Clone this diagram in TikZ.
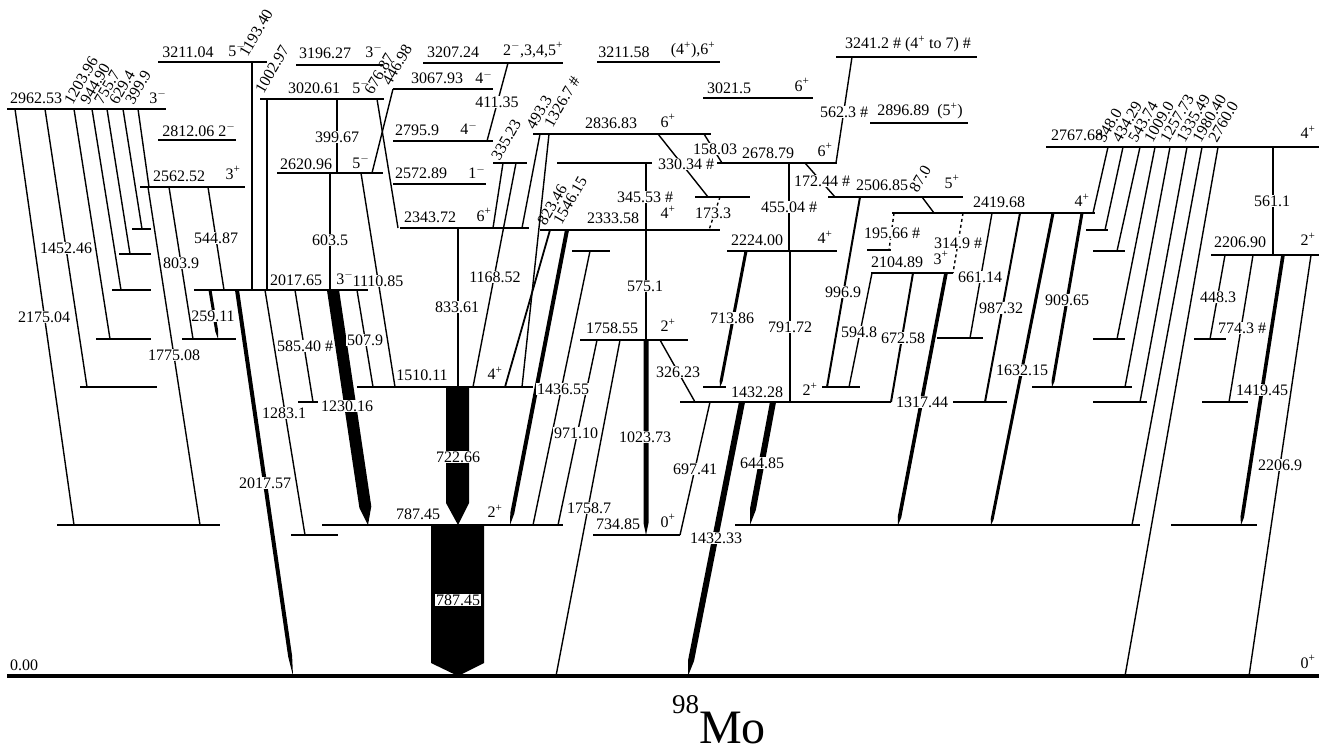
\documentclass[tikz,border=0pt]{standalone}
\usepackage{fontspec}
\setmainfont{Liberation Serif}
\usetikzlibrary{calc}
\newcounter{lb}
\newcommand\Lv[3]{\draw[lev] (#2,#1) -- (#3,#1);}
\newcommand\Gm[5][]{\draw[gam,#1] (#2,#3) -- (#4,#5);}
\newcommand\Tg[6]{%
  \coordinate (tA) at (#1,#2); \coordinate (tB) at (#3,#4);
  \coordinate (tC) at ($(tB)!#6!(tA)$);
  \fill ($(tA)!#5!90:(tB)$) -- ($(tC)!#5!-90:(tA)$) -- (tB) -- ($(tC)!#5!90:(tA)$) -- ($(tA)!#5!-90:(tB)$) -- cycle;}
\newcommand\Lb[4][]{\stepcounter{lb}\node[lab,#1] (l\thelb) at (#2,#3) {#4};}
\newcommand\Rl[3]{\stepcounter{lb}\node[rlab] (l\thelb) at (#1,#2) {#3};}
\newcommand\SM{\textsuperscript{$-$}}
\newcommand\SP{\textsuperscript{+}}
\begin{document}
\begin{tikzpicture}[x=1pt,y=-1pt,
  lev/.style={line width=1.8pt},
  gam/.style={line width=1.4pt},
  lab/.style={font=\fontsize{16}{16}\selectfont, inner sep=0.6pt, fill=white},
  rlab/.style={font=\fontsize{16}{16}\selectfont, inner sep=0pt, rotate=60, anchor=south west}]
\useasboundingbox (0,0) rectangle (1329,751);
% ---------- levels ----------
\draw[line width=4pt] (7,676) -- (1319,676);
\Lv{525}{57}{220}\Lv{525}{322}{563}\Lv{525}{735}{1140}\Lv{525}{1171}{1257}
\Lv{535}{291}{338}\Lv{535}{593}{680}
\Lv{402}{298}{318}\Lv{402}{680}{891}\Lv{402}{953}{1007}\Lv{402}{1093}{1147}\Lv{402}{1202}{1248}
\Lv{387}{80}{157}\Lv{387}{357}{533}\Lv{387}{703}{726}\Lv{387}{822}{860}\Lv{387}{1032}{1132}
\Lv{339}{96}{151}\Lv{339}{182}{236}\Lv{340}{580}{688}\Lv{338}{937}{983}\Lv{339}{1093}{1125}\Lv{339}{1194}{1226}
\Lv{290}{112}{151}\Lv{290}{194}{368}
\Lv{273}{871}{953}
\Lv{254}{119}{151}\Lv{255}{1211}{1319}
\Lv{251}{572}{610}\Lv{251}{727}{837}\Lv{250}{867}{891}\Lv{251}{1093}{1125}
\Lv{229}{132}{151}\Lv{230}{540}{720}\Lv{230}{1086}{1108}
\Lv{228}{400}{529}
\Lv{213}{892}{1095}
\Lv{197}{695}{750}\Lv{197}{828}{963}
\Lv{187}{140}{245}
\Lv{184}{393}{486}
\Lv{173}{277}{383}
\Lv{163}{493}{527}\Lv{163}{557}{652}\Lv{163}{717}{837}
\Lv{147}{1046}{1319}
\Lv{141}{393}{493}
\Lv{140}{158}{236}
\Lv{134}{533}{711}
\Lv{123}{870}{968}
\Lv{109}{7}{166}
\Lv{99}{260}{384}
\Lv{98}{703}{813}
\Lv{89}{393}{493}
\Lv{65}{296}{383}
\Lv{63}{423}{563}
\Lv{62}{158}{267}
\Lv{62}{597}{720}
\Lv{57}{836}{977}
% ---------- transitions ----------
\Gm{15}{109}{74}{525}\Gm{45}{109}{87}{387}\Gm{74}{109}{110}{339}\Gm{92}{109}{121}{290}
\Gm{107}{109}{130}{254}\Gm{123}{109}{142}{229}\Gm{138}{109}{149}{187}
\Gm{148}{187}{200}{525}\Gm{169}{187}{193}{339}\Gm{208}{187}{224}{290}
\Gm{252}{62}{252}{290}\Gm{267}{99}{267}{290}\Gm{337}{99}{337}{173}\Gm{377}{99}{398}{228}
\Gm{393}{89}{372}{173}
\Gm{330}{173}{330}{290}\Gm{361}{173}{395}{387}
\Gm{265}{290}{305}{535}\Gm{295}{290}{313}{402}\Gm{357}{290}{373}{387}
\Gm{508}{63}{487}{141}
\Gm{458}{228}{458}{387}
\Gm{503}{163}{493}{228}\Gm{516}{163}{473}{387}
\Gm{540}{134}{522}{228}\Gm{549}{134}{522}{387}
\Gm{704}{134}{722}{163}\Gm{658}{134}{708}{197}
\Gm[line width=1.8pt]{550}{230}{505}{387}
\Gm{646}{163}{646}{230}\Gm{646}{230}{646}{340}
\Gm{590}{251}{533}{525}
\Gm{597}{340}{558}{525}\Gm{620}{340}{556}{676}\Gm{660}{340}{695}{402}
\Gm{710}{402}{680}{535}
\Gm{852}{57}{836}{163}
\Gm{789}{163}{789}{251}\Gm{805}{163}{835}{197}
\Gm[dashed]{720}{197}{709}{230}
\Gm{790}{251}{790}{402}
\Gm[line width=2pt]{860}{197}{827}{387}\Gm{922}{197}{934}{213}
\Gm[dashed]{894}{213}{889}{250}\Gm[dashed]{963}{213}{953}{273}
\Gm{992}{213}{970}{338}\Gm[line width=2pt]{1020}{213}{985}{402}
\Gm{872}{273}{849}{387}\Gm[line width=2pt]{913}{273}{891}{402}
\Gm{1108}{147}{1093}{213}\Gm{1123}{147}{1105}{230}\Gm{1140}{147}{1117}{251}
\Gm{1155}{147}{1117}{339}\Gm{1170}{147}{1125}{387}\Gm{1187}{147}{1140}{402}
\Gm{1202}{147}{1132}{525}\Gm{1218}{147}{1125}{676}\Gm{1273}{147}{1273}{255}
\Gm{1225}{255}{1210}{339}\Gm{1253}{255}{1229}{402}\Gm{1311}{255}{1249}{676}
% thick tapered
\Tg{237}{290}{293}{676}{2pt}{20pt}
\Tg{210}{290}{218}{339}{1.5pt}{8pt}
\Tg{333}{290}{368}{525}{6pt}{18pt}
\Tg{567}{230}{510}{525}{2pt}{12pt}
\Tg{646}{340}{646}{535}{2.5pt}{12pt}
\Tg{742}{402}{688}{676}{3pt}{16pt}
\Tg{773}{402}{750}{525}{3pt}{16pt}
\Tg{746}{251}{720}{387}{1.5pt}{6pt}
\Tg{946}{273}{898}{525}{1.8pt}{8pt}
\Tg{1053}{213}{991}{525}{1.5pt}{6pt}
\Tg{1082}{213}{1052}{387}{1.5pt}{6pt}
\Tg{1283}{255}{1241}{525}{1.8pt}{8pt}
% block arrows
\fill (446,387) -- (469,387) -- (469,503) -- (458,525) -- (446,503) -- cycle;
\fill (431,525) -- (484,525) -- (484,663) -- (458,676) -- (431,663) -- cycle;
% ---------- labels ----------
\Lb{24}{665}{0.00}\Lb{1308}{662}{0\SP}
\Lb{36}{98}{2962.53}\Lb{158}{97}{3\SM}
\Rl{73}{106}{1203.96}\Rl{89}{106}{944.90}\Rl{103}{106}{755.7}\Rl{118}{106}{629.4}\Rl{134}{106}{399.9}
\Lb{188}{52}{3211.04}\Lb{237}{50}{5\SM}
\Rl{248}{58}{1193.40}\Rl{264}{95}{1002.97}
\Lb{325}{53}{3196.27}\Lb{374}{51}{3\SM}
\Lb{314}{88}{3020.61}\Lb{361}{87}{5\SM}
\Rl{373}{96}{676.87}\Rl{391}{87}{446.98}
\Lb{199}{130}{2812.06 2\SM}
\Lb{179}{176}{2562.52}\Lb{233}{173}{3\SP}
\Lb{306}{164}{2620.96}\Lb{361}{162}{5\SM}
\Lb{337}{137}{399.67}
\Lb{437}{78}{3067.93}\Lb{484}{77}{4\SM}
\Lb{453}{52}{3207.24}\Lb{533}{50}{2\SM,3,4,5\SP}
\Lb{497}{102}{411.35}
\Lb{417}{130}{2795.9}\Lb{469}{128}{4\SM}
\Lb{421}{173}{2572.89}\Lb{477}{172}{1\SM}
\Rl{500}{162}{335.23}\Rl{535}{131}{493.3}\Rl{553}{129}{1326.7 \#}
\Lb{611}{123}{2836.83}\Lb{668}{121}{6\SP}
\Lb{624}{52}{3211.58}\Lb{693}{50}{(4\SP),6\SP}
\Lb{729}{88}{3021.5}\Lb{802}{85}{6\SP}
\Lb{908}{44}{3241.2 \# (4\SP{} to 7) \#}
\Lb{844}{112}{562.3 \#}
\Lb{920}{111}{2896.89 \ (5\SP)}
\Lb{715}{149}{158.03}
\Lb{768}{153}{2678.79}\Lb{825}{150}{6\SP}
\Lb{686}{164}{330.34 \#}
\Lb{645}{197}{345.53 \#}
\Lb{613}{218}{2333.58}\Lb{668}{212}{4\SP}
\Lb{713}{213}{173.3}
\Lb{822}{181}{172.44 \#}
\Lb{882}{185}{2506.85}\Rl{918}{194}{87.0}\Lb{952}{182}{5\SP}
\Lb{789}{207}{455.04 \#}
\Lb{757}{240}{2224.00}\Lb{825}{237}{4\SP}
\Lb{892}{233}{195.66 \#}
\Lb{958}{243}{314.9 \#}
\Lb{897}{262}{2104.89}\Lb{941}{258}{3\SP}
\Lb{999}{202}{2419.68}\Lb{1082}{200}{4\SP}
\Lb{843}{292}{996.9}
\Lb{980}{277}{661.14}
\Lb{1001}{308}{987.32}
\Lb{732}{318}{713.86}
\Lb{790}{327}{791.72}
\Lb{859}{332}{594.8}
\Lb{903}{338}{672.58}
\Lb{1067}{300}{909.65}
\Lb{1022}{370}{1632.15}
\Lb{922}{402}{1317.44}
\Lb{1077}{135}{2767.68}\Lb{1308}{132}{4\SP}
\Rl{1105}{144}{348.0}\Rl{1121}{144}{434.29}\Rl{1137}{144}{543.74}\Rl{1153}{144}{1009.0}
\Rl{1169}{144}{1257.73}\Rl{1185}{144}{1335.49}\Rl{1201}{144}{1980.40}\Rl{1217}{144}{2760.0}
\Lb{1272}{201}{561.1}
\Lb{1240}{242}{2206.90}\Lb{1308}{239}{2\SP}
\Lb{1218}{297}{448.3}
\Lb{1242}{328}{774.3 \#}
\Lb{1262}{390}{1419.45}
\Lb{1280}{465}{2206.9}
\Lb{66}{248}{1452.46}
\Lb{44}{317}{2175.04}
\Lb{174}{355}{1775.08}
\Lb{181}{263}{803.9}
\Lb{216}{238}{544.87}
\Lb{213}{316}{259.11}
\Lb{305}{346}{585.40 \#}
\Lb{284}{413}{1283.1}
\Lb{265}{483}{2017.57}
\Lb{296}{280}{2017.65}\Lb{345}{278}{3\SM}\Lb{378}{281}{1110.85}
\Lb{330}{240}{603.5}
\Lb{365}{340}{507.9}
\Lb{347}{406}{1230.16}
\Lb{430}{217}{2343.72}\Lb{484}{215}{6\SP}
\Lb{457}{307}{833.61}
\Lb{495}{277}{1168.52}
\Lb{422}{375}{1510.11}\Lb{495}{373}{4\SP}
\Rl{546}{227}{823.46}\Rl{562}{226}{1546.15}
\Lb{645}{286}{575.1}
\Lb{563}{389}{1436.55}
\Lb{612}{328}{1758.55}\Lb{668}{325}{2\SP}
\Lb{678}{372}{326.23}
\Lb{757}{392}{1432.28}\Lb{810}{389}{2\SP}
\Lb{458}{457}{722.66}
\Lb{418}{514}{787.45}\Lb{495}{511}{2\SP}
\Lb{458}{600}{787.45}
\Lb{576}{433}{971.10}
\Lb{589}{508}{1758.7}
\Lb{645}{437}{1023.73}
\Lb{618}{524}{734.85}\Lb{668}{521}{0\SP}
\Lb{695}{469}{697.41}
\Lb{762}{463}{644.85}
\Lb{716}{538}{1432.33}
\node[anchor=base west, inner sep=0pt] (title) at (672,743)
  {{\fontsize{27}{27}\selectfont\raisebox{30pt}{98}}{\fontsize{48}{48}\selectfont Mo}};
\end{tikzpicture}
\end{document}
